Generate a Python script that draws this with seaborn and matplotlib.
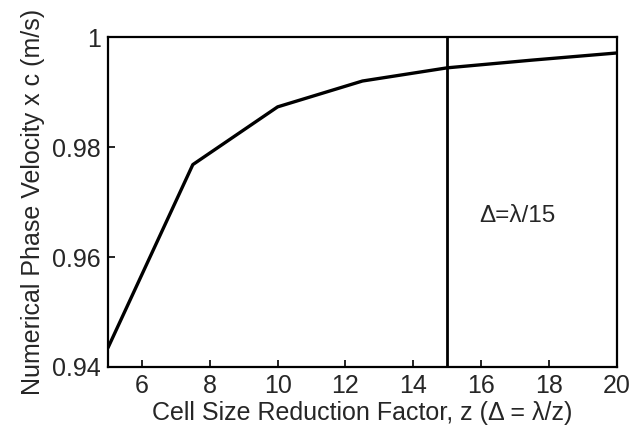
import matplotlib
matplotlib.use("Agg")
import matplotlib.pyplot as plt
import seaborn as sns
import pandas as pd

z_values = [5, 7.5, 10, 12.5, 15, 17.5, 20]
velocity = [0.9435, 0.9768, 0.9873, 0.9920, 0.9944, 0.9958, 0.9971]
marker_z = 15
annotation = "Δ=λ/15"
x_ticks = [6, 8, 10, 12, 14, 16, 18, 20]
y_ticks = [0.94, 0.96, 0.98, 1.0]
y_tick_labels = ["0.94", "0.96", "0.98", "1"]

sns.set_theme(style="ticks")
plt.rcParams['font.family'] = ['Liberation Sans', 'DejaVu Sans']

df = pd.DataFrame({"z": z_values, "v": velocity})

fig = plt.figure(figsize=(6.33, 4.34), dpi=100)
ax = fig.add_axes([0.1706, 0.1544, 0.804, 0.7603])
sns.lineplot(data=df, x="z", y="v", ax=ax, color="black", linewidth=2.4)
ax.axvline(marker_z, color="black", linewidth=2.0)
ax.text(15.95, 0.9675, annotation, fontsize=17.5, va="center", ha="left")

ax.set_xlim(5, 20)
ax.set_ylim(0.94, 1.0)
ax.set_xticks(x_ticks)
ax.set_yticks(y_ticks)
ax.set_yticklabels(y_tick_labels)
ax.tick_params(direction="in", length=5, width=1.2, labelsize=18, pad=5, color="black")
for s in ax.spines.values():
    s.set_linewidth(1.6)
    s.set_color("black")
ax.set_xlabel("Cell Size Reduction Factor, z (Δ = λ/z)", fontsize=18, labelpad=2)
ax.set_ylabel("Numerical Phase Velocity x c (m/s)", fontsize=18, labelpad=5)

fig.savefig("out.png", dpi=100)
